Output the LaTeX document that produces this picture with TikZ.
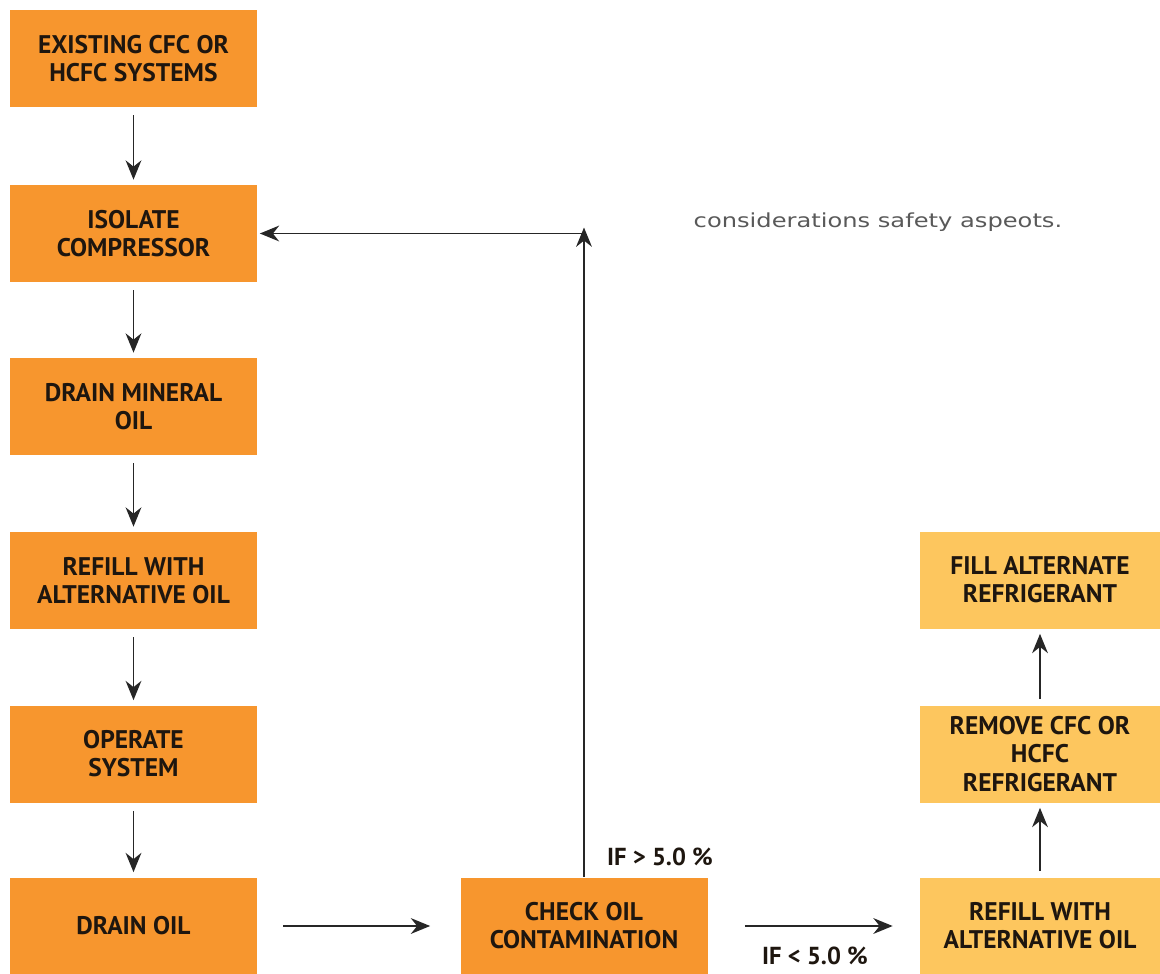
\documentclass[tikz,border=0pt]{standalone}
\usepackage{fontspec}
\setmainfont{PT Sans}
\newfontfamily\notefont{DejaVu Sans}[FakeStretch=1.25]
\usetikzlibrary{arrows.meta}
\definecolor{darkorange}{RGB}{247,150,46}
\definecolor{lightorange}{RGB}{253,198,94}
\definecolor{boxtext}{RGB}{30,22,15}
\tikzset{
  darkbox/.style={fill=darkorange,draw=none,minimum width=4.94cm,minimum height=1.94cm,
    align=center,inner sep=1pt,text=boxtext,font=\bfseries\fontsize{14.5}{16}\selectfont},
  lightbox/.style={darkbox,fill=lightorange,minimum width=4.8cm},
  flow/.style={line width=0.8pt,-{Stealth[length=11pt,width=9pt]},black!85},
  iflabel/.style={text=boxtext,font=\bfseries\fontsize{14}{16}\selectfont}
}
\begin{document}
\begin{tikzpicture}
  \useasboundingbox (0, 0) rectangle (23.2, -19.48);

  \node[darkbox] (existing) at (2.67, -1.17) {EXISTING CFC OR\\HCFC SYSTEMS};
  \node[darkbox] (isolate) at (2.67, -4.67) {ISOLATE\\COMPRESSOR};
  \node[darkbox] (drainmin) at (2.67, -8.13) {DRAIN MINERAL\\OIL};
  \node[darkbox] (refill) at (2.67, -11.61) {REFILL WITH\\ALTERNATIVE OIL};
  \node[darkbox] (operate) at (2.67, -15.08) {OPERATE\\SYSTEM};
  \node[darkbox] (drainoil) at (2.67, -18.52) {DRAIN OIL};

  \node[darkbox] (check) at (11.68, -18.52) {CHECK OIL\\CONTAMINATION};

  \node[lightbox] (fillalt) at (20.8, -11.6) {FILL ALTERNATE\\REFRIGERANT};
  \node[lightbox] (removecfc) at (20.8, -15.08) {REMOVE CFC OR\\HCFC\\REFRIGERANT};
  \node[lightbox] (refillalt) at (20.8, -18.52) {REFILL WITH\\ALTERNATIVE OIL};

  \draw[flow, shorten <=0.16cm, shorten >=0.1cm] (existing) -- (isolate);
  \draw[flow, shorten <=0.16cm, shorten >=0.1cm] (isolate) -- (drainmin);
  \draw[flow, shorten <=0.16cm, shorten >=0.1cm] (drainmin) -- (refill);
  \draw[flow, shorten <=0.16cm, shorten >=0.1cm] (refill) -- (operate);
  \draw[flow, shorten <=0.16cm, shorten >=0.1cm] (operate) -- (drainoil);

  \draw[flow, shorten <=0.52cm, shorten >=0.6cm] (drainoil) -- (check);
  \draw[flow, shorten <=0.74cm, shorten >=0.54cm] (check) -- (refillalt);

  \coordinate (corner) at (check.north |- isolate.east);
  \draw[flow] (check.north) -- ([yshift=0.12cm]corner);
  \draw[flow, shorten >=0.05cm] (corner) -- (isolate.east);

  \draw[flow, shorten <=0.12cm, shorten >=0.1cm] (refillalt) -- (removecfc);
  \draw[flow, shorten <=0.12cm, shorten >=0.1cm] (removecfc) -- (fillalt);

  \node[iflabel] (above) at (13.2, -17.14) {IF > 5.0 \%};
  \node[iflabel] (below) at (16.3, -19.12) {IF < 5.0 \%};

  \node[anchor=west, text=black!65, font=\notefont\fontsize{11}{13}\selectfont] (note) at (13.75, -4.44) {considerations safety aspeots.};
\end{tikzpicture}
\end{document}
